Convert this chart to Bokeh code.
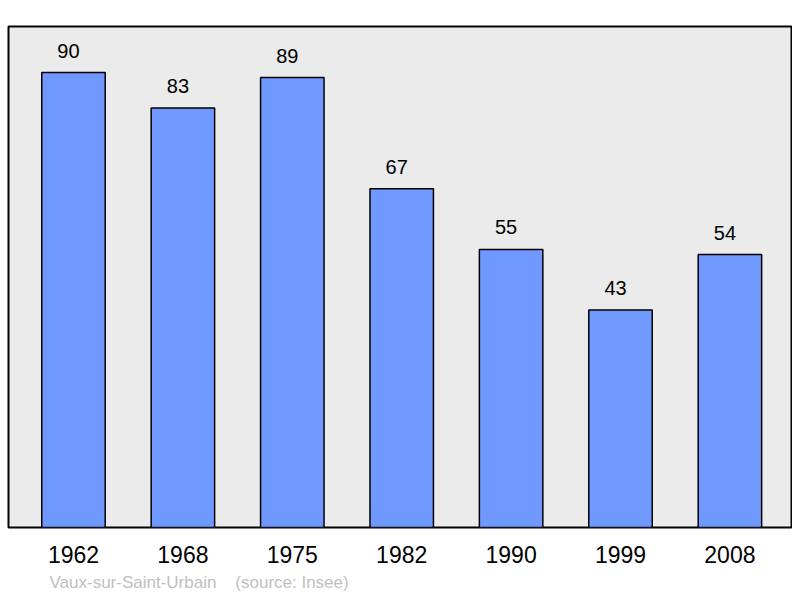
from bokeh.plotting import figure
from bokeh.models import ColumnDataSource, FixedTicker, Range1d, Title
from bokeh.core.properties import value
from bokeh.embed import file_html
from bokeh.resources import INLINE

years = ["1962", "1968", "1975", "1982", "1990", "1999", "2008"]
population = [90, 83, 89, 67, 55, 43, 54]
commune = "Vaux-sur-Saint-Urbain"
source_note = "(source: Insee)"

idx = list(range(len(years)))
src = ColumnDataSource(dict(x=idx, top=population, label=[str(v) for v in population]))

p = figure(width=792, height=596, output_backend="svg", toolbar_location=None,
           x_range=Range1d(-0.594, 6.572), y_range=Range1d(0, 99.1),
           min_border_left=8, min_border_right=0, min_border_top=26, min_border_bottom=68)
p.background_fill_color = "#ebebeb"
p.border_fill_color = "white"
p.outline_line_color = "black"
p.outline_line_width = 2
p.grid.visible = False
p.yaxis.visible = False

p.vbar(x="x", top="top", width=0.58, bottom=0, source=src,
       fill_color="#7099ff", line_color="black", line_width=1.5)
p.text(x="x", y="top", text="label", source=src, x_offset=-5, y_offset=-22,
       text_align="center", text_baseline="alphabetic",
       text_font=value("Liberation Sans"), text_font_size="20px", text_color="black")

ax = p.xaxis[0]
ax.ticker = FixedTicker(ticks=idx)
ax.major_label_overrides = {i: y for i, y in zip(idx, years)}
ax.axis_line_color = None
ax.major_tick_line_color = None
ax.minor_tick_line_color = None
ax.major_tick_out = 0
ax.major_label_standoff = 18
ax.major_label_text_font = "Liberation Sans"
ax.major_label_text_font_size = "23px"
ax.major_label_text_color = "black"

footer = commune + "\u00a0\u00a0\u00a0 " + source_note
p.add_layout(Title(text=footer, align="left", offset=41, standoff=10,
                   text_font="Liberation Sans", text_font_size="17px",
                   text_font_style="normal", text_color="#c0c0c0"), "below")

open("out.html", "w").write(file_html(p, INLINE))
